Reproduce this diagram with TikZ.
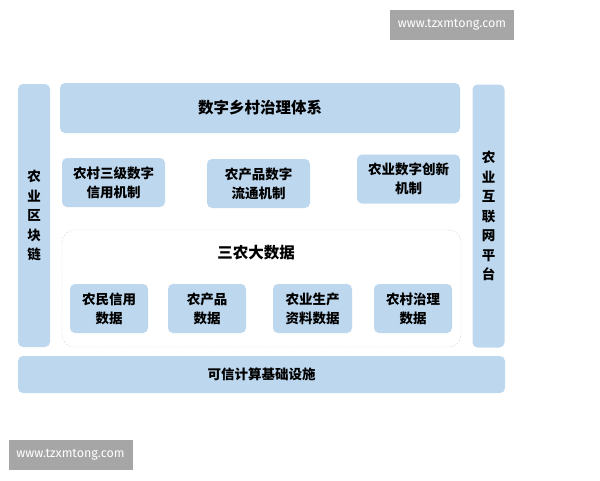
\documentclass[tikz,border=0pt]{standalone}
\usepackage{fontspec}
\setmainfont{Noto Sans CJK SC}
\newfontfamily\wmfont{Fira Sans}
\definecolor{layerblue}{HTML}{BDD7EE}
\definecolor{wmgray}{HTML}{A6A6A6}
\definecolor{frame}{HTML}{D5D5D5}

\begin{document}
\begin{tikzpicture}[x=1pt,y=-1pt,every node/.style={align=center,inner sep=0pt,font=\fontsize{13.5}{19}\selectfont\bfseries},
  layer/.style={fill=layerblue,rounded corners=5pt},
  unit/.style={layer,minimum width=103pt,minimum height=49pt},
  datum/.style={layer,minimum width=78pt,minimum height=49pt},
  pillar/.style={layer,minimum width=32pt,minimum height=263pt,font=\fontsize{13.5}{19.5}\selectfont\bfseries},
  wmark/.style={fill=wmgray,text=white,minimum width=124pt,minimum height=30pt,font=\wmfont\fontsize{12.5}{14}\selectfont}]
      \useasboundingbox (0,0) rectangle (600,480);
      \node[wmark] (wm1) at (452,25) {www.tzxmtong.com};
      \node[wmark] (wm2) at (70.5,455) {www.tzxmtong.com};
      \node[pillar] (chain) at (34,215.5) {农\\业\\区\\块\\链};
      \node[pillar] (net) at (488.5,216) {农\\业\\互\\联\\网\\平\\台};
      \node[layer,minimum width=400pt,minimum height=50pt,font=\fontsize{15.5}{19}\selectfont\bfseries] (gov) at (260,108) {数字乡村治理体系};
      \node[unit] (credit) at (113.5,182.5) {农村三级数字\\信用机制};
      \node[unit] (flow) at (258.5,183.5) {农产品数字\\流通机制};
      \node[unit] (innov) at (408.5,179) {农业数字创新\\机制};
      \node[draw=frame,dash pattern=on 2pt off 1.5pt,rounded corners=12pt,minimum width=399pt,minimum height=117pt] (bigdata) at (261.5,288.5) {};
      \node[font=\fontsize{15.5}{19}\selectfont\bfseries] (bdtitle) at (256,253) {三农大数据};
      \node[datum] (farmer) at (109,308.5) {农民信用\\数据};
      \node[datum] (product) at (207,308.5) {农产品\\数据};
      \node[datum,minimum width=79pt] (means) at (312.5,308.5) {农业生产\\资料数据};
      \node[datum] (rural) at (413,308.5) {农村治理\\数据};
      \node[layer,minimum width=487pt,minimum height=37pt] (trust) at (261.5,374.5) {可信计算基础设施};
    \end{tikzpicture}
\end{document}
